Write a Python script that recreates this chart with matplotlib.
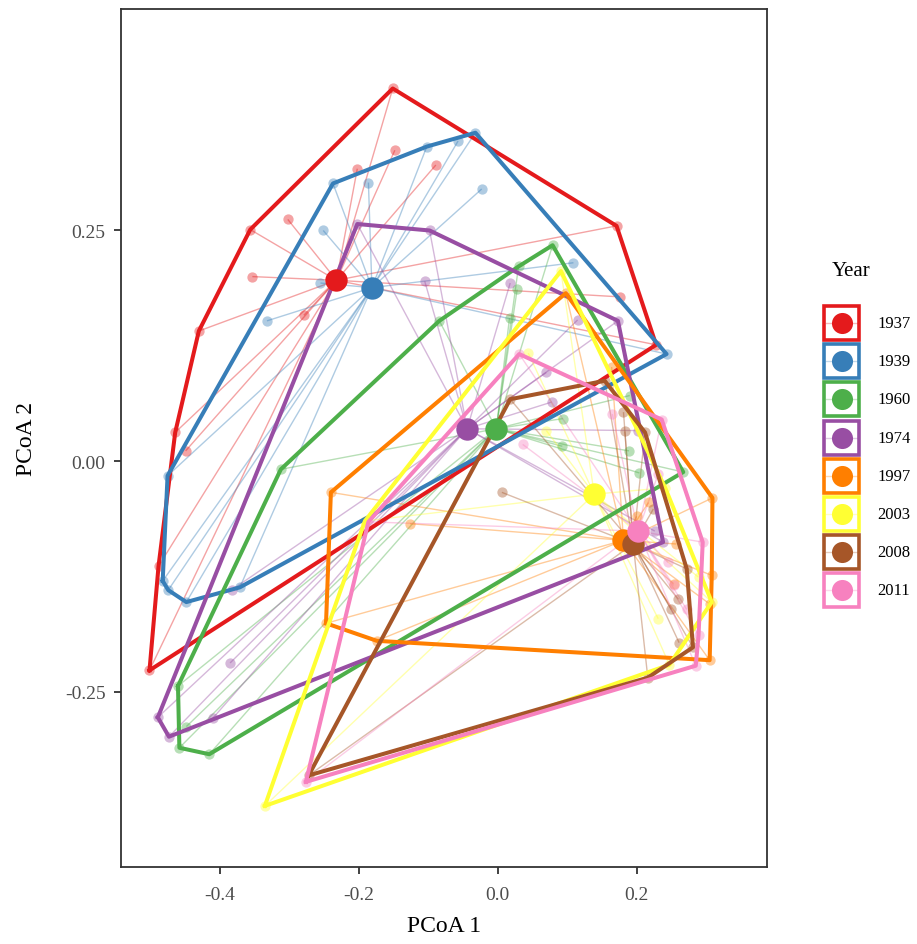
import numpy as np
import matplotlib
matplotlib.use("Agg")
import matplotlib.pyplot as plt
from matplotlib.patches import Rectangle

plt.rcParams['font.family'] = ['Liberation Serif', 'DejaVu Serif']

years = ["1937", "1939", "1960", "1974", "1997", "2003", "2008", "2011"]
colors = ["#E41A1C", "#377EB8", "#4DAF4A", "#984EA3",
          "#FF7F00", "#FFFF33", "#A65628", "#F781BF"]

# sample coordinates (PCoA 1, PCoA 2) per year
pts_1937 = [(-0.151, 0.404), (0.171, 0.255), (0.228, 0.126), (-0.501, -0.227),
            (-0.488, -0.114), (-0.464, 0.031), (-0.430, 0.141), (-0.356, 0.251),
            (-0.148, 0.337), (-0.202, 0.317), (-0.089, 0.321), (-0.302, 0.262),
            (-0.353, 0.200), (-0.279, 0.158), (-0.449, 0.011), (0.176, 0.178)]
pts_1939 = [(-0.237, 0.301), (-0.102, 0.341), (-0.032, 0.356), (0.243, 0.116),
            (-0.371, -0.137), (-0.448, -0.153), (-0.474, -0.140), (-0.482, -0.130),
            (-0.475, -0.016), (-0.186, 0.302), (-0.057, 0.347), (-0.251, 0.250),
            (-0.255, 0.193), (-0.332, 0.152), (-0.023, 0.295), (0.109, 0.215)]
pts_1960 = [(0.079, 0.234), (0.267, -0.012), (-0.415, -0.318), (-0.458, -0.311),
            (-0.460, -0.244), (-0.312, -0.009), (-0.084, 0.152), (0.030, 0.211),
            (0.028, 0.186), (0.017, 0.155), (0.094, 0.046), (0.190, 0.071),
            (0.189, 0.011), (0.204, -0.013), (-0.448, -0.288), (0.093, 0.016)]
pts_1974 = [(-0.202, 0.257), (-0.098, 0.250), (0.173, 0.152), (0.238, -0.088),
            (-0.473, -0.299), (-0.489, -0.278), (-0.105, 0.195), (0.018, 0.193),
            (0.115, 0.153), (0.070, 0.096), (0.078, 0.064), (0.202, 0.033),
            (0.226, -0.076), (-0.383, -0.140), (-0.385, -0.219), (-0.410, -0.279)]
pts_1997 = [(0.098, 0.182), (0.309, -0.040), (0.305, -0.216), (-0.174, -0.195),
            (-0.247, -0.176), (-0.240, -0.034), (0.164, 0.102), (-0.126, -0.068),
            (0.217, -0.045), (0.257, -0.090), (0.308, -0.124), (0.253, -0.133),
            (0.305, -0.155), (0.200, -0.060)]
pts_2003 = [(0.091, 0.206), (0.308, -0.153), (0.247, -0.221), (-0.335, -0.374),
            (-0.191, -0.065), (0.044, 0.117), (0.070, 0.033), (0.241, -0.029),
            (0.289, -0.126), (0.231, -0.171), (0.140, -0.040)]
pts_2008 = [(0.018, 0.067), (0.154, 0.087), (0.212, 0.031), (0.272, -0.117),
            (0.281, -0.202), (0.216, -0.235), (-0.272, -0.341), (0.181, 0.053),
            (0.183, 0.032), (0.006, -0.034), (0.224, -0.052), (0.260, -0.150),
            (0.250, -0.161), (0.261, -0.197)]
pts_2011 = [(0.031, 0.116), (0.236, 0.045), (0.295, -0.088), (0.285, -0.222),
            (-0.276, -0.348), (-0.186, -0.066), (0.036, 0.018), (0.165, 0.051),
            (0.231, -0.014), (0.245, -0.110), (0.272, -0.161), (0.289, -0.189),
            (0.253, -0.135)]
centroids = [(-0.232, 0.196), (-0.181, 0.188), (-0.002, 0.035), (-0.044, 0.035),
             (0.181, -0.086), (0.139, -0.036), (0.195, -0.090), (0.202, -0.076)]

groups = [pts_1937, pts_1939, pts_1960, pts_1974, pts_1997, pts_2003, pts_2008, pts_2011]

xticks = [-0.4, -0.2, 0.0, 0.2]
xticklabels = ["-0.4", "-0.2", "0.0", "0.2"]
yticks = [-0.25, 0.0, 0.25]
yticklabels = ["-0.25", "0.00", "0.25"]


def hull(points):
    p = sorted(set(points))
    def cross(o, a, b):
        return (a[0]-o[0])*(b[1]-o[1]) - (a[1]-o[1])*(b[0]-o[0])
    lower, upper = [], []
    for q in p:
        while len(lower) >= 2 and cross(lower[-2], lower[-1], q) <= 0:
            lower.pop()
        lower.append(q)
    for q in reversed(p):
        while len(upper) >= 2 and cross(upper[-2], upper[-1], q) <= 0:
            upper.pop()
        upper.append(q)
    h = lower[:-1] + upper[:-1]
    return h + [h[0]]


fig = plt.figure(figsize=(9.17, 9.45), dpi=100)
ax = fig.add_axes([121/917, 77/945, 646/917, 858/945])

for pts, c, cen in zip(groups, colors, centroids):
    arr = np.array(pts)
    for x, y in pts:
        ax.plot([cen[0], x], [cen[1], y], color=c, lw=1.0, alpha=0.4, zorder=2,
                solid_capstyle='butt')
    ax.scatter(arr[:, 0], arr[:, 1], s=55, color=c, alpha=0.4, lw=0, zorder=3)

for pts, c in zip(groups, colors):
    h = np.array(hull(pts))
    ax.plot(h[:, 0], h[:, 1], color=c, lw=2.9, zorder=4, solid_joinstyle='round')

for cen, c in zip(centroids, colors):
    ax.scatter([cen[0]], [cen[1]], s=260, color=c, lw=0, zorder=5)

ax.set_xlim(-0.542, 0.3875)
ax.set_ylim(-0.4403, 0.4902)
ax.set_xticks(xticks)
ax.set_xticklabels(xticklabels)
ax.set_yticks(yticks)
ax.set_yticklabels(yticklabels)
ax.tick_params(length=5, width=1.3, color="#333333", labelcolor="#4d4d4d",
               labelsize=14)
ax.tick_params(axis="x", pad=9)
ax.tick_params(axis="y", pad=6)
for s in ax.spines.values():
    s.set_color("#333333")
    s.set_linewidth(1.3)
ax.set_xlabel("PCoA 1", fontsize=17, labelpad=8)
ax.set_ylabel("PCoA 2", fontsize=17, labelpad=20)

# legend drawn by hand in pixel space
lg = fig.add_axes([0, 0, 1, 1])
lg.set_xlim(0, 917)
lg.set_ylim(945, 0)
lg.axis("off")
lg.text(832, 272, "Year", fontsize=15, va="center", ha="left")
for i, (yr, c) in enumerate(zip(years, colors)):
    yc = 324 + i * 38.2
    lg.add_patch(Rectangle((824, yc - 17), 35, 34, fill=False, edgecolor=c, lw=2.6))
    lg.plot([826, 857], [yc, yc], color=c, alpha=0.3, lw=1)
    lg.scatter([841.5], [yc], s=230, color=c, lw=0)
    lg.text(877, yc, yr, fontsize=12, va="center", ha="left")

fig.savefig("out.png", dpi=100)
